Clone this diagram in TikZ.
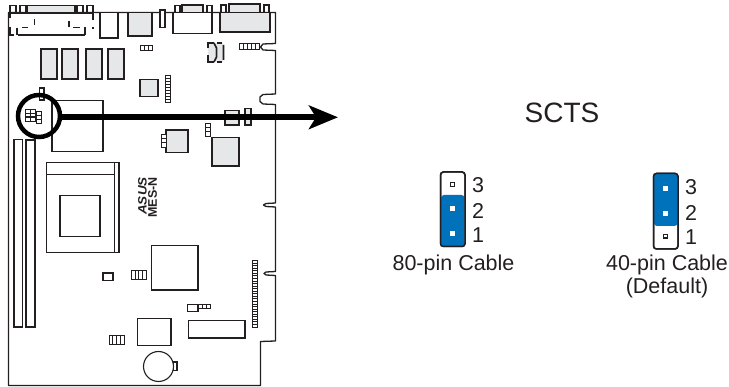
\documentclass[tikz,border=0pt]{standalone}
\usepackage{fontspec}
\setmainfont{Liberation Sans}
\usetikzlibrary{arrows.meta}
\definecolor{ink}{HTML}{231F20}
\definecolor{jblue}{HTML}{0072BC}
\definecolor{chip}{HTML}{E6E7E8}
\tikzset{
  part/.style={draw=ink,line width=1.2pt},
  graypart/.style={part,fill=chip},
  thin part/.style={draw=ink,line width=.9pt},
  lbl/.style={text=ink,inner sep=0pt,font=\fontsize{21.5}{24}\selectfont},
  jumper/.style={draw=ink,line width=1.5pt,rounded corners=3pt},
  pinw/.style={fill=white},
  pine/.style={fill=white,draw=ink,line width=1.2pt},
}
% horizontal row of n cells, vertical row of n cells
\newcommand\hrow[5]{\draw[thin part,fill=white] (#1,#2) rectangle (#3,#4);
  \pgfmathsetmacro\stepw{(#3-#1)/#5}
  \foreach \k in {1,...,#5}{\draw[thin part] ({#1+\k*\stepw},#2) -- ({#1+\k*\stepw},#4);}}
\newcommand\vrow[5]{\draw[thin part,fill=white] (#1,#2) rectangle (#3,#4);
  \pgfmathsetmacro\stepw{(#4-#2)/#5}
  \foreach \k in {1,...,#5}{\draw[thin part] (#1,{#2+\k*\stepw}) -- (#3,{#2+\k*\stepw});}}
\begin{document}
\begin{tikzpicture}[x=1pt,y=-1pt]
\useasboundingbox (0,0) rectangle (729,387);
% board outline
\draw[part,line width=1.3pt,line join=round] (8.5,12.5) -- (275.5,12.5) -- (275.5,43.5) -- (263,44) -- (260.5,47) -- (263,50) -- (275.5,50.5)
  -- (275.5,94) -- (263,94.5) -- (260,97) -- (260,101.5) -- (263,104) -- (275.5,104.5)
  -- (275.5,203) -- (266,203.5) -- (263.5,205) -- (266,206.5) -- (275.5,207)
  -- (275.5,271.5) -- (266,272) -- (264,273.5) -- (266,275) -- (275.5,275.5)
  -- (275.5,341) -- (260.5,341.5) -- (260.5,385.5) -- (8.5,385.5) -- cycle;
% parallel port
\fill[white] (9.5,13.5) rectangle (95,36);
\draw[part] (10,5.5) rectangle (16,12.5) (20,5.5) rectangle (26,12.5) (77,5.5) rectangle (83,12.5) (87,5.5) rectangle (93,12.5);
\draw[part,fill=chip] (27,5.5) rectangle (75,12.5);
\draw[part,line width=1.3pt] (10,13) -- (93,13);
\draw[part] (10,13) -- (10,18) (10,27) -- (10,35) -- (14,35) (93,13) -- (93,20) (93,27) -- (93,29);
\draw[part,line width=1.4pt] (17,28) -- (17,35.5) (18,35) -- (85,35) (85,27) -- (85,35.5) (22,27.5) -- (28,27.5) (34.5,19) -- (34.5,25.5) (69,21) -- (69,27) (73,27.5) -- (80,27.5);
% rear connectors
\draw[part,fill=white] (100,12.5) rectangle (118,38);
\draw[graypart] (128,12.5) rectangle (152,36);
\draw[part,fill=white] (160,10) rectangle (165,27.5);
\draw[part,fill=white] (173,12.5) rectangle (212,33.5);
\draw[part] (175,5.5) rectangle (180,12.5) (207,5.5) rectangle (212,12.5);
\draw[part,fill=chip] (182,5) rectangle (203,12.5);
\draw[graypart] (220,12.5) rectangle (270,32);
\draw[part] (221,5) rectangle (226,12.5) (264,5) rectangle (269,12.5);
\draw[part,fill=chip] (229,4) rectangle (260,12.5);
% memory-like chips
\draw[graypart] (41,49) rectangle (57,79);
\draw[graypart] (62,49) rectangle (78,79);
\draw[graypart] (86,49) rectangle (102,79);
\draw[graypart] (108,49) rectangle (124,79);
\hrow{140.5}{45.5}{152}{50}{3}
\hrow{239.5}{43.5}{259}{49.5}{5}
% bracket pair
\fill[chip] (208,43) rectangle (215,62) (216,43) rectangle (223,62);
\draw[part,line width=1.4pt] (208,48.5) -- (208,43) -- (214,43) (208,55) -- (208,62) -- (214,62) (217,43) -- (222,43) (217,62) -- (222,62);
\draw[part,line width=1.6pt] (214,43) -- (216.5,48) -- (216.5,57) -- (214,62) (223.5,45) -- (223.5,60);
\draw[graypart] (140,79.5) rectangle (158,96.5);
\vrow{165}{75}{170}{102}{9}
% board body, CPU and slots
\draw[part,fill=white] (52,100.5) -- (103,100.5) -- (103,151.7) -- (52,151.7) -- cycle;
\draw[part,fill=white] (39.5,88) rectangle (44,100);
\draw[part,fill=white] (14,139.5) rectangle (22.5,327);
\draw[part,fill=white] (26,140) rectangle (35,327);
\draw[part,fill=white] (46.5,162.5) rectangle (119,252.5);
\draw[part] (47,174.5) -- (114.5,174.5) (114.5,162.5) -- (114.5,252.5);
\draw[part] (60,195.5) rectangle (100,236.5);
% centre chips
\vrow{205.5}{123}{210}{136}{3}
\draw[graypart] (225,110.5) rectangle (239,125);
\draw[graypart] (245,108.5) rectangle (251,125);
\draw[graypart] (166,130) rectangle (188,152.5);
\vrow{161.5}{134.5}{166}{147}{3}
\draw[graypart] (212,137.5) rectangle (239,166);
% logos
\node[rotate=90,inner sep=0pt,text=ink,yscale=.9] (asus) at (142.5,196) {\fontsize{13.5}{14}\selectfont\bfseries\itshape ASUS};
\node[rotate=90,inner sep=0pt,text=ink] (model) at (152.5,197.5) {\fontsize{12.5}{13}\selectfont\bfseries MES-N};
% lower components
\draw[part] (151.5,245.5) rectangle (198,290);
\draw[part,line width=1.4pt] (103,273) rectangle (113,280.5);
\hrow{131.5}{270.5}{146}{279}{4}
\draw[part,line width=1.4pt] (187.5,304.5) rectangle (198,311.5);
\hrow{198}{304}{210}{308.5}{3}
\draw[part,line width=1.4pt] (137.5,318.5) rectangle (171,345.5);
\draw[part,line width=1.4pt] (188.5,320.5) rectangle (245,338);
\hrow{109}{335}{124}{344}{4}
\draw[part,fill=white] (173,362) rectangle (177,370.5);
\node[draw=ink,line width=1.1pt,fill=white,circle,inner sep=0pt,minimum size=30pt] (battery) at (158.5,366.5) {};
\vrow{252.5}{260.5}{257}{327}{26}
% magnifier and arrow
\draw[thin part,fill=white] (25.5,109.5) rectangle (35,121);
\draw[thin part,line width=1.2pt] (25.5,113.3) -- (35,113.3) (25.5,117.1) -- (35,117.1) (30.2,109.5) -- (30.2,121);
\vrow{36.5}{111.5}{41}{123}{3}
\node[draw=black,line width=4.5pt,circle,inner sep=0pt,minimum size=42pt,outer sep=0pt] (lens) at (39,116) {};
\coordinate (tip) at (338,117.3);
\draw[black,line width=5.6pt,-{Stealth[length=29pt,width=23.5pt,inset=7pt]}] (lens.east) ++(1,1.3) -- (tip);
% title
\node[text=ink,inner sep=0pt,font=\fontsize{28}{30}\selectfont] (title) at (562,113) {SCTS};
% left jumper
\draw[jumper,fill=white] (440.5,172) rectangle (465,246.5);
\fill[jblue,rounded corners=3pt] (441,195) -- (464.5,195) -- (464.5,246) -- (441,246) -- cycle;
\draw[jumper] (440.5,172) rectangle (465,246.5);
\draw[pine] (450.8,182.7) rectangle (454.7,186.5);
\fill[pinw] (450.2,206) rectangle (455.2,211);
\fill[pinw] (450.2,231) rectangle (455.2,236);
\node[lbl] (la3) at (478,185.5) {3};
\node[lbl] (la2) at (478,210.5) {2};
\node[lbl] (la1) at (478,235) {1};
\node[lbl] (cable80) at (453.5,264.5) {80-pin Cable};
% right jumper
\draw[jumper,fill=white] (653.5,173.5) rectangle (678,249);
\fill[jblue,rounded corners=3pt] (654,174) -- (677.5,174) -- (677.5,226) -- (654,226) -- cycle;
\draw[jumper] (653.5,173.5) rectangle (678,249);
\draw[pine] (663.3,234.2) rectangle (667.2,238);
\fill[pinw] (662.8,186) rectangle (667.8,191);
\fill[pinw] (662.8,211) rectangle (667.8,216);
\node[lbl] (lb3) at (691,187) {3};
\node[lbl] (lb2) at (691,213) {2};
\node[lbl] (lb1) at (691,237) {1};
\node[lbl] (cable40) at (667,265) {40-pin Cable};
\node[lbl] (default) at (667,287.5) {(Default)};
\end{tikzpicture}
\end{document}
